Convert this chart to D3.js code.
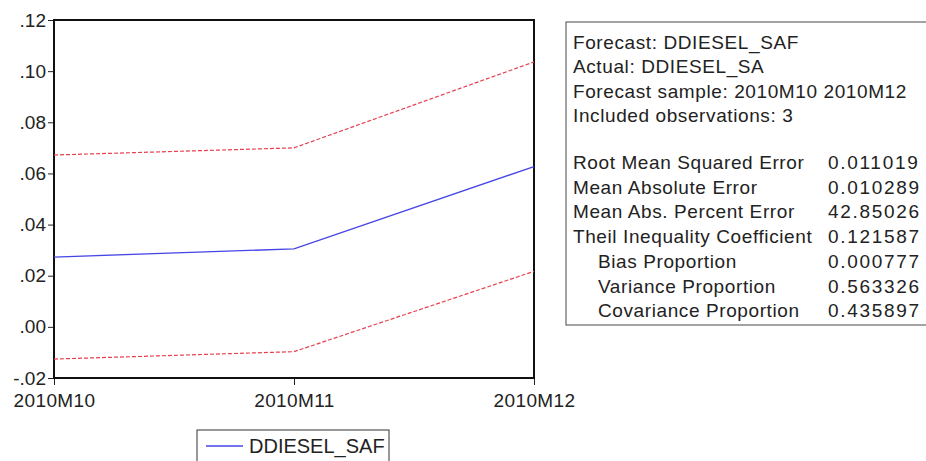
<!DOCTYPE html>
<html>
<head>
<meta charset="utf-8">
<script src="https://cdn.jsdelivr.net/npm/d3@7"></script>
<style>
  body { margin: 0; background: #fff; }
  svg text { font-family: "Liberation Sans", Arial, sans-serif; fill: #222; }
</style>
</head>
<body>
<svg id="chart" width="926" height="461"></svg>
<script>
// forecast periods and series
var periods = ["2010M10", "2010M11", "2010M12"];
var forecast = [0.0273, 0.0305, 0.0627];
var upperBand = [0.0672, 0.0700, 0.1036];
var lowerBand = [-0.0126, -0.0097, 0.0217];
var yTicks = [-0.02, 0, 0.02, 0.04, 0.06, 0.08, 0.10, 0.12];

// forecast evaluation table
var headerLines = [
    "Forecast: DDIESEL_SAF",
    "Actual: DDIESEL_SA",
    "Forecast sample: 2010M10 2010M12",
    "Included observations: 3"
];
var statNames = [
    "Root Mean Squared Error",
    "Mean Absolute Error",
    "Mean Abs. Percent Error",
    "Theil Inequality Coefficient",
    "Bias Proportion",
    "Variance Proportion",
    "Covariance Proportion"
];
var statValues = ["0.011019", "0.010289", "42.85026", "0.121587", "0.000777", "0.563326", "0.435897"];
var statIndent = [0, 0, 0, 0, 1, 1, 1];

var svg = d3.select("#chart");
var m = {left: 54, top: 20, right: 534, bottom: 378};

var x = d3.scalePoint()
    .domain(periods)
    .range([m.left, m.right]);

var y = d3.scaleLinear()
    .domain([-0.02, 0.12])
    .range([m.bottom, m.top]);

// y轴 .12 / -.02 样式
function fmtY(v) {
    return v.toFixed(2).replace(/^(-?)0\./, "$1.");
}

var yAxis = svg.append("g")
    .attr("transform", "translate(" + m.left + ",0)")
    .call(d3.axisLeft(y).tickValues(yTicks).tickFormat(fmtY).tickSize(6).tickPadding(2));

var xAxis = svg.append("g")
    .attr("transform", "translate(0," + m.bottom + ")")
    .call(d3.axisBottom(x).tickSize(7).tickPadding(4));

[yAxis, xAxis].forEach(function (g) {
    g.select(".domain").remove();
    g.selectAll("line").attr("stroke", "#222").attr("stroke-width", 1);
    g.selectAll("text").attr("font-size", 19).attr("fill", "#222");
});
xAxis.selectAll("text").attr("dy", "0.95em").attr("letter-spacing", 0.4);

// frame
svg.append("rect")
    .attr("x", m.left)
    .attr("y", m.top)
    .attr("width", m.right - m.left)
    .attr("height", m.bottom - m.top)
    .attr("fill", "none")
    .attr("stroke", "#111")
    .attr("stroke-width", 2);

var line = d3.line()
    .x(function (d, i) { return x(periods[i]); })
    .y(function (d) { return y(d); });

[upperBand, lowerBand].forEach(function (s) {
    svg.append("path")
        .datum(s)
        .attr("d", line)
        .attr("fill", "none")
        .attr("stroke", "#e6404f")
        .attr("stroke-width", 1.2)
        .attr("stroke-dasharray", "4,2");
});

svg.append("path")
    .datum(forecast)
    .attr("d", line)
    .attr("fill", "none")
    .attr("stroke", "#4646e6")
    .attr("stroke-width", 1.3);

// legend
var leg = svg.append("g").attr("transform", "translate(197,430)");
leg.append("rect")
    .attr("width", 192).attr("height", 40)
    .attr("fill", "#fff").attr("stroke", "#333").attr("stroke-width", 1);
leg.append("line")
    .attr("x1", 9).attr("x2", 46).attr("y1", 16).attr("y2", 16)
    .attr("stroke", "#4646e6").attr("stroke-width", 1.3);
leg.append("text")
    .attr("x", 52).attr("y", 23)
    .attr("font-size", 20)
    .text("DDIESEL_SAF");

// stats box
var box = svg.append("g").attr("transform", "translate(566,22)");
box.append("rect")
    .attr("width", 380).attr("height", 303)
    .attr("fill", "#fff").attr("stroke", "#666").attr("stroke-width", 1.2);

box.selectAll(".hdr")
    .data(headerLines)
    .enter().append("text")
    .attr("class", "hdr")
    .attr("x", 7)
    .attr("y", function (d, i) { return 27 + i * 24.3; })
    .attr("font-size", 19)
    .attr("letter-spacing", 0.6)
    .text(function (d) { return d; });

box.selectAll(".sname")
    .data(statNames)
    .enter().append("text")
    .attr("class", "sname")
    .attr("x", function (d, i) { return 7 + statIndent[i] * 25; })
    .attr("y", function (d, i) { return 147 + i * 24.7; })
    .attr("font-size", 19)
    .attr("letter-spacing", 0.6)
    .text(function (d) { return d; });

box.selectAll(".sval")
    .data(statValues)
    .enter().append("text")
    .attr("class", "sval")
    .attr("x", 262)
    .attr("y", function (d, i) { return 147 + i * 24.7; })
    .attr("font-size", 19)
    .attr("letter-spacing", 1.7)
    .text(function (d) { return d; });
</script>
</body>
</html>
